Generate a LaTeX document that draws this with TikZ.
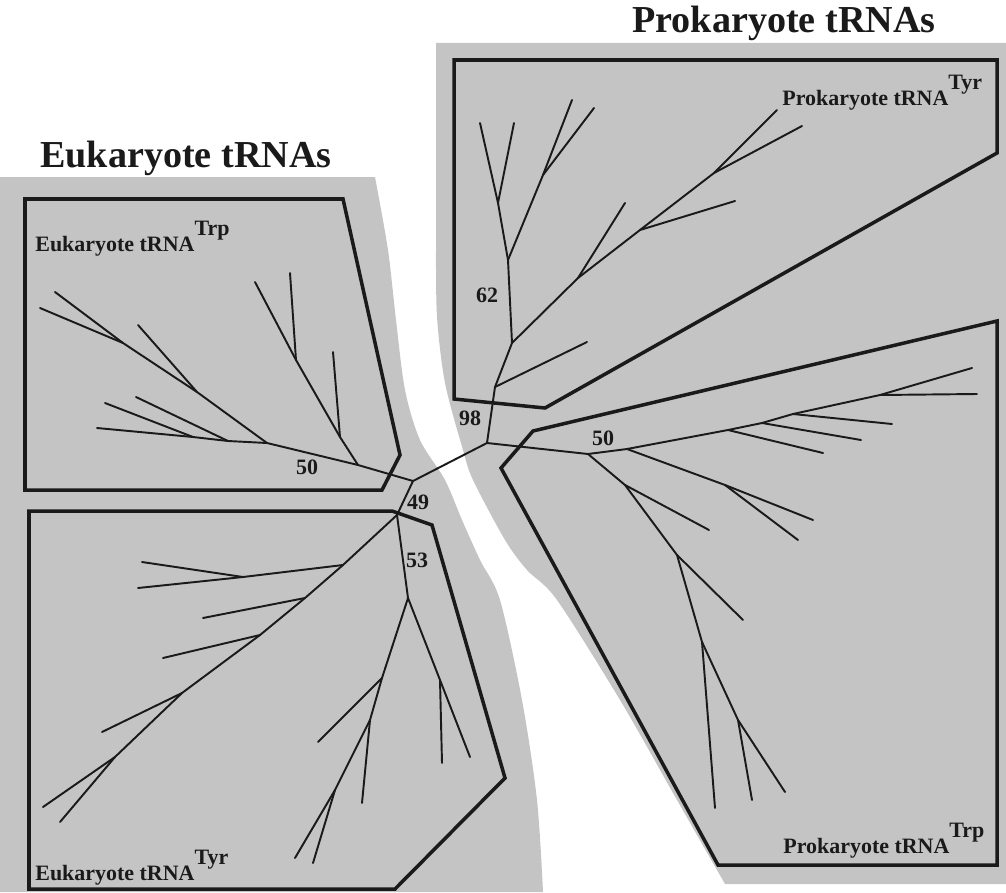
\documentclass[tikz,border=0pt]{standalone}
\usepackage{fontspec}
\setmainfont{Liberation Serif}
\usepackage{tikz}
\usetikzlibrary{calc}
\definecolor{tShade}{HTML}{C4C4C4}
\definecolor{tInk}{HTML}{1A1A1A}
\newcommand{\trnaof}[1]{tRNA\raisebox{0.7em}{#1}}

\begin{document}
\begin{tikzpicture}[x=0.02cm, y=-0.02cm,
  every node/.style={font=\bfseries\fontsize{12.5}{15}\selectfont, inner sep=0pt, color=tInk},
  branch/.style={draw=tInk, line width=1.1pt, line cap=round},
  clade/.style={draw=tInk, line width=2pt, line join=miter},
  title/.style={anchor=base west, font=\bfseries\fontsize{21.7}{26}\selectfont},
  group/.style={anchor=base west},
  boot/.style={anchor=center}
]
\useasboundingbox (0,0) rectangle (1006,892);

% shaded background with the pale band between the two kingdoms
\fill[tShade] (0,177) -- (375,177)
  -- plot[smooth] coordinates {(375,177) (388,250) (396,320) (405,390) (420,440)
     (445,480) (462,520) (480,560) (500,600) (522,700) (537,800) (543,892)}
  -- (0,892) -- cycle;
\fill[tShade] (436,43) -- (1006,43) -- (1006,884) -- (725,884)
  -- plot[smooth] coordinates {(725,884) (677,800) (620,700) (557,600) (527,570)
     (505,540) (473,480) (463,450) (445,383) (437,317) (436,250)}
  -- cycle;

% clade boxes
\draw[clade] (25,199) -- (343,199) -- (400,455) -- (382,490) -- (25,490) -- cycle;
\draw[clade] (29,511) -- (392,511) -- (432,525) -- (505,778) -- (395,889) -- (29,889) -- cycle;
\draw[clade] (454,60) -- (997,60) -- (997,153) -- (545,408) -- (454,399) -- cycle;
\draw[clade] (533,431) -- (997,321) -- (997,865) -- (718,865) -- (501,468) -- cycle;

% titles and group labels
\node[title] (tProk) at (632,33) {Prokaryote tRNAs};
\node[title] (tEuk) at (40,167) {Eukaryote tRNAs};
\node[group] (gEukTrp) at (35,251) {Eukaryote \trnaof{Trp}};
\node[group] (gEukTyr) at (35,880) {Eukaryote \trnaof{Tyr}};
\node[group] (gProkTyr) at (782,105) {Prokaryote \trnaof{Tyr}};
\node[group] (gProkTrp) at (783,853) {Prokaryote \trnaof{Trp}};

% bootstrap values
\node[boot] (b50a) at (307,467) {50};
\node[boot] (b49) at (418,502) {49};
\node[boot] (b53) at (417,560) {53};
\node[boot] (b98) at (470,418) {98};
\node[boot] (b62) at (487,295) {62};
\node[boot] (b50b) at (603,438) {50};

% centre of the tree
\coordinate (euk) at (413,481);
\coordinate (prok) at (487,443);
\coordinate (eTyr) at (397,515);
\draw[branch] (euk) -- (prok);
\draw[branch] (euk) -- (eTyr);

% eukaryote tRNA Trp
\coordinate (eA) at (358,465);
\coordinate (eE) at (267,443);
\coordinate (eD) at (340,437);
\coordinate (eB) at (296,360);
\coordinate (eF) at (197,392);
\coordinate (eG) at (123,343);
\coordinate (eH) at (228,441);
\coordinate (eI) at (193,437);
\draw[branch] (euk) -- (eA) -- (eE);
\draw[branch] (eA) -- (eD) -- (eB) -- (255,282);
\draw[branch] (eB) -- (290,273);
\draw[branch] (eD) -- (333,352);
\draw[branch] (eE) -- (eF) -- (eG) -- (55,292);
\draw[branch] (eG) -- (40,308);
\draw[branch] (eF) -- (138,325);
\draw[branch] (eE) -- (eH) -- (eI) -- (97,428);
\draw[branch] (eH) -- (136,397);
\draw[branch] (eI) -- (105,403);

% eukaryote tRNA Tyr
\coordinate (yJ) at (408,598);
\coordinate (yK) at (343,565);
\coordinate (yP) at (243,577);
\coordinate (yL) at (305,598);
\coordinate (yM) at (260,635);
\coordinate (yN) at (182,693);
\coordinate (yO) at (115,757);
\coordinate (yQ) at (382,678);
\coordinate (yR) at (370,720);
\coordinate (yS) at (335,790);
\coordinate (yT) at (440,680);
\draw[branch] (eTyr) -- (yJ);
\draw[branch] (eTyr) -- (yK) -- (yL) -- (yM) -- (yN) -- (yO) -- (43,807);
\draw[branch] (yO) -- (60,822);
\draw[branch] (yK) -- (yP) -- (142,562);
\draw[branch] (yP) -- (138,588);
\draw[branch] (yL) -- (203,618);
\draw[branch] (yM) -- (163,658);
\draw[branch] (yN) -- (102,732);
\draw[branch] (yJ) -- (yQ) -- (yR) -- (yS) -- (295,858);
\draw[branch] (yS) -- (313,863);
\draw[branch] (yQ) -- (318,742);
\draw[branch] (yR) -- (362,803);
\draw[branch] (yJ) -- (yT) -- (470,757);
\draw[branch] (yT) -- (442,763);

% prokaryote tRNA Tyr
\coordinate (pU) at (495,387);
\coordinate (pV) at (512,343);
\coordinate (pW) at (578,278);
\coordinate (pX) at (640,230);
\coordinate (pY) at (714,173);
\coordinate (pZ) at (508,260);
\coordinate (pAA) at (498,203);
\coordinate (pBB) at (543,175);
\draw[branch] (prok) -- (pU) -- (pV) -- (pZ);
\draw[branch] (pU) -- (587,342);
\draw[branch] (pV) -- (pW) -- (pX) -- (pY) -- (777,110);
\draw[branch] (pY) -- (802,126);
\draw[branch] (pW) -- (625,203);
\draw[branch] (pX) -- (735,201);
\draw[branch] (pZ) -- (pAA) -- (480,123);
\draw[branch] (pAA) -- (514,123);
\draw[branch] (pZ) -- (pBB) -- (572,100);
\draw[branch] (pBB) -- (594,108);

% prokaryote tRNA Trp
\coordinate (qT) at (588,454);
\coordinate (qA) at (627,449);
\coordinate (qB) at (728,430);
\coordinate (qC) at (762,423);
\coordinate (qD) at (793,414);
\coordinate (qE) at (880,395);
\coordinate (qF) at (725,485);
\coordinate (qG) at (625,485);
\coordinate (qH) at (677,555);
\coordinate (qI) at (702,642);
\coordinate (qJ) at (738,720);
\draw[branch] (prok) -- (qT) -- (qA) -- (qB) -- (qC) -- (qD) -- (qE) -- (972,368);
\draw[branch] (qE) -- (977,394);
\draw[branch] (qB) -- (823,453);
\draw[branch] (qC) -- (861,440);
\draw[branch] (qD) -- (892,424);
\draw[branch] (qA) -- (qF) -- (813,520);
\draw[branch] (qF) -- (798,540);
\draw[branch] (qT) -- (qG) -- (qH) -- (qI) -- (qJ) -- (785,792);
\draw[branch] (qG) -- (709,530);
\draw[branch] (qH) -- (743,620);
\draw[branch] (qI) -- (715,808);
\draw[branch] (qJ) -- (752,800);
\end{tikzpicture}
\end{document}
